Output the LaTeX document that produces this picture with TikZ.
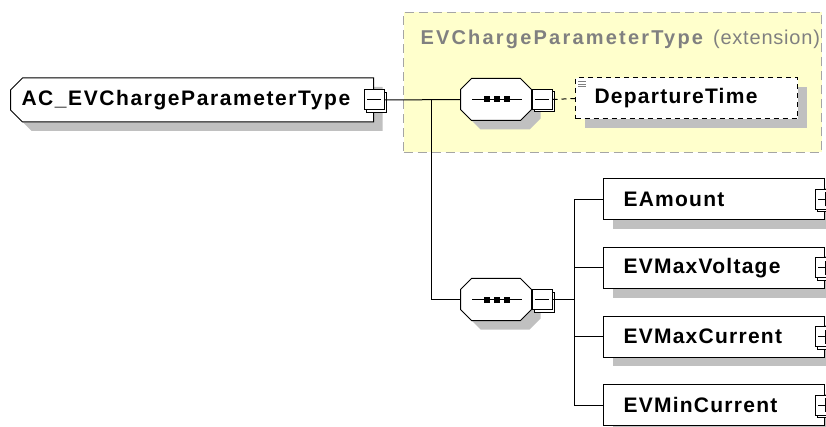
\documentclass[tikz,border=0pt]{standalone}
\usepackage{fontspec}
\setmainfont{Liberation Sans}
\newfontfamily\labelfont[LetterSpace=6]{Liberation Sans}
\newfontfamily\titlefont[LetterSpace=11]{Liberation Sans}
\usetikzlibrary{shapes.misc, shadows, positioning}
\definecolor{extyellow}{RGB}{255,255,204}
\definecolor{extborder}{RGB}{165,165,165}
\definecolor{titlegray}{RGB}{128,128,128}
\definecolor{shadowgray}{RGB}{192,192,192}

% octagon outline and sequence mark around a seqbox node
\newcommand{\seqshape}[1]{%
  \draw[fill=white, boxshadow]
    ([xshift=11pt]#1.north west) -- ([xshift=-11pt]#1.north east) -- ([yshift=-11pt]#1.north east)
    -- ([yshift=11pt]#1.south east) -- ([xshift=-11pt]#1.south east) -- ([xshift=11pt]#1.south west)
    -- ([yshift=11pt]#1.south west) -- ([yshift=-11pt]#1.north west) -- cycle;
  \draw ([xshift=-24pt]#1.center) -- ([xshift=26pt]#1.center);
  \draw[line width=6pt, dash pattern=on 6pt off 4pt] ([xshift=-12pt]#1.center) -- ([xshift=14pt]#1.center);
}

\begin{document}
\begin{tikzpicture}[
  x=1pt, y=-1pt, line width=1pt,
  node distance=26.5pt,
  every node/.style={font=\labelfont\bfseries\fontsize{21}{25}\selectfont},
  boxshadow/.style={drop shadow={shadow xshift=9pt, shadow yshift=-9pt,
                    fill=shadowgray, draw=none, opacity=1}},
  rootbox/.style={chamfered rectangle, chamfered rectangle corners={north west, south west},
                  chamfered rectangle xsep=6pt, chamfered rectangle ysep=6pt,
                  draw, fill=white, boxshadow, minimum height=44pt,
                  text width=341pt, inner xsep=5pt, align=left, anchor=west},
  seqbox/.style={rectangle, minimum width=70pt, minimum height=41pt, inner sep=0pt},
  expander/.style={rectangle, draw, fill=white, minimum size=20pt, inner sep=0pt,
                   drop shadow={shadow xshift=2.5pt, shadow yshift=-2.5pt, fill=white, draw=black, opacity=1}},
  minusbox/.style={expander, path picture={
                   \draw ([xshift=-7pt]path picture bounding box.center) -- ([xshift=7pt]path picture bounding box.center);}},
  plusbox/.style={expander, path picture={
                   \draw ([xshift=-7pt]path picture bounding box.center) -- ([xshift=7pt]path picture bounding box.center);
                   \draw ([yshift=-7pt]path picture bounding box.center) -- ([yshift=7pt]path picture bounding box.center);}},
  element/.style={rectangle, draw, fill=white, boxshadow, minimum height=41pt,
                  text width=181pt, inner xsep=20pt, inner ysep=0pt, align=left, anchor=west},
  optelement/.style={element, dashed, dash pattern=on 5pt off 4pt, text width=184pt, inner xsep=19pt},
  extbox/.style={rectangle, draw=extborder, fill=extyellow, dash pattern=on 9pt off 5pt, inner sep=0pt},
  link/.style={draw, line width=1pt}
]
\useasboundingbox (0,0) rectangle (826,427);
\clip (0,0) rectangle (826,427);

%--- Extension frame ---%
\node[extbox, anchor=north west, minimum width=418pt, minimum height=140pt] (ext) at (403,12) {};
\node[anchor=base west, inner sep=0pt, text=titlegray,
      font=\titlefont\fontsize{20}{24}\selectfont] (exttitle) at (420,45)
  {\textbf{EVChargeParameterType} {\addfontfeature{LetterSpace=4}(extension)}};

%--- Root type ---%
\node[rootbox] (root) at (10,100) {\addfontfeature{LetterSpace=7.5}AC\_EVChargeParameterType};
\node[minusbox] (rootx) at (root.east) {};

%--- Sequences ---%
\node[seqbox] (seqA) at (496,99.5) {};
\seqshape{seqA}
\node[minusbox, anchor=west] (seqAx) at (seqA.east) {};
\node[seqbox] (seqB) at (496,299.5) {};
\seqshape{seqB}
\node[minusbox, anchor=west] (seqBx) at (seqB.east) {};

%--- Elements ---%
\node[optelement] (departure) at (575,98.5) {DepartureTime};
\foreach \dy in {4,6.5,9}
  \draw[line width=0.8pt, gray] ([xshift=3pt, yshift=-\dy pt]departure.north west) -- ++(8pt,0);

\node[element] (amount) at (603,199.5) {EAmount};
\node[element, below=of amount.south west, anchor=north west] (maxvolt) {EVMaxVoltage};
\node[element, below=of maxvolt.south west, anchor=north west] (maxcurr) {EVMaxCurrent};
\node[element, below=of maxcurr.south west, anchor=north west] (mincurr) {EVMinCurrent};
\foreach \e in {amount,maxvolt,maxcurr,mincurr}
  \node[plusbox] (\e x) at (\e.east) {};

%--- Connectors ---%
\draw[link] (rootx.east) -- (seqA.west);
\coordinate (fork) at (431,100);
\draw[link] (fork) |- (seqB.west);
\draw[link, dash pattern=on 5pt off 4pt] (seqAx.east) -- (departure.west);
\draw[link] (seqBx.east) -- ++(22,0) coordinate (bus);
\foreach \e in {amount,maxvolt,maxcurr,mincurr}
  \draw[link] (bus) |- (\e.west);

\end{tikzpicture}
\end{document}
